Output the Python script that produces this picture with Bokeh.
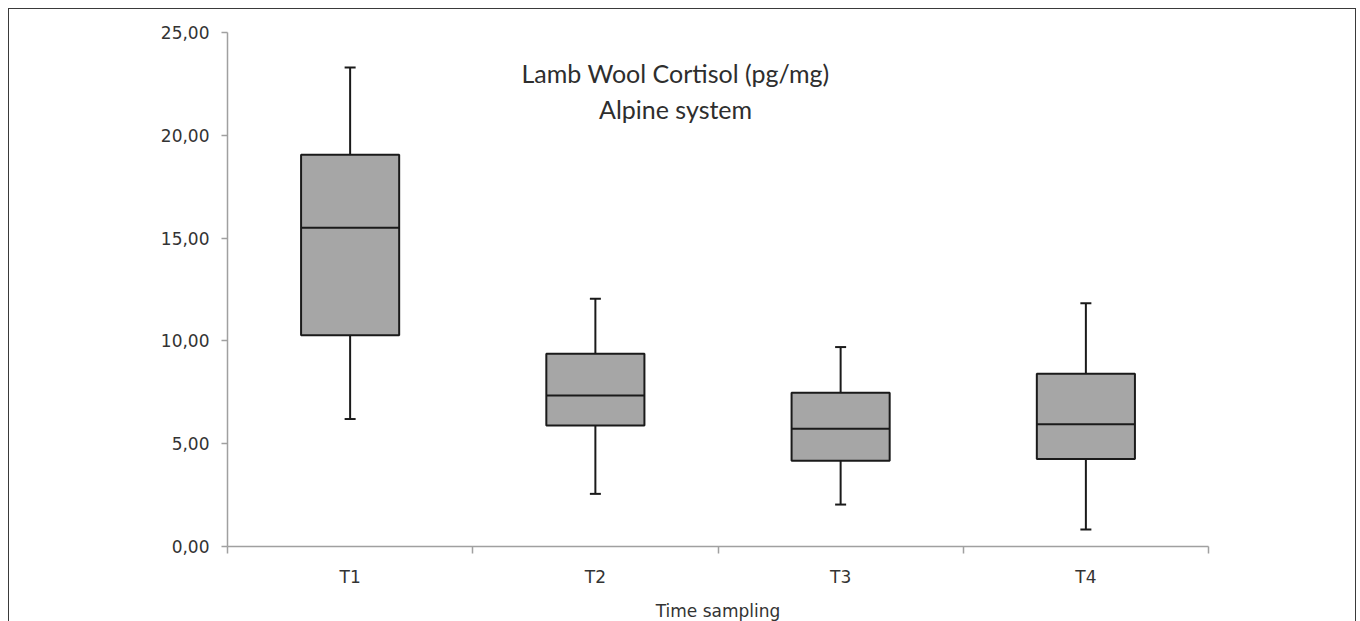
from bokeh.plotting import figure
from bokeh.models import Range1d, LinearAxis, FixedTicker, Label, ColumnDataSource
from bokeh.transform import dodge
from bokeh.embed import file_html
from bokeh.resources import INLINE

# ---- data ----
categories = ["T1", "T2", "T3", "T4"]
whisker_low = [6.20, 2.56, 2.04, 0.83]
q1 = [10.27, 5.89, 4.17, 4.26]
median = [15.50, 7.35, 5.73, 5.94]
q3 = [19.06, 9.37, 7.48, 8.40]
whisker_high = [23.30, 12.05, 9.70, 11.83]
y_ticks = [0, 5, 10, 15, 20, 25]
y_tick_labels = ["0,00", "5,00", "10,00", "15,00", "20,00", "25,00"]
title_lines = ["Lamb Wool Cortisol (pg/mg)", "Alpine system"]
x_title = "Time sampling"

n = len(categories)
centers = [i + 0.5 for i in range(n)]      # category slots on a 0..n axis
bounds = list(range(n + 1))

src = ColumnDataSource(dict(x=centers, cat=categories, lo=whisker_low, q1=q1,
                            med=median, q3=q3, hi=whisker_high))

p = figure(width=1348, height=614, x_range=Range1d(0, n),
           y_range=Range1d(0, 25), output_backend="svg", toolbar_location=None,
           x_axis_location=None, y_axis_location=None,
           min_border_left=218, min_border_right=149, min_border_top=23,
           min_border_bottom=74)
p.styles = {"border": "1px solid #3a3a3a", "box-sizing": "border-box",
            "margin-left": "8px", "margin-top": "8px"}
p.grid.visible = False
p.outline_line_color = None
p.background_fill_color = "white"
p.border_fill_color = "white"

# y axis
yax = LinearAxis(ticker=FixedTicker(ticks=y_ticks))
yax.major_label_overrides = {t: l for t, l in zip(y_ticks, y_tick_labels)}
yax.axis_line_color = "#a0a0a0"
yax.axis_line_width = 1.5
yax.major_tick_line_color = "#a0a0a0"
yax.major_tick_line_width = 1.5
yax.major_tick_in = 0
yax.major_tick_out = 6
yax.minor_tick_line_color = None
yax.major_label_text_font = "DejaVu Sans"
yax.major_label_text_font_size = "17px"
yax.major_label_text_color = "#333333"
yax.major_label_standoff = 12
p.add_layout(yax, "left")

# x axis: labels at category centres, ticks at category boundaries
xax = LinearAxis(ticker=FixedTicker(ticks=centers, minor_ticks=bounds))
xax.major_label_overrides = {c: l for c, l in zip(centers, categories)}
xax.axis_line_color = "#a0a0a0"
xax.axis_line_width = 1.5
xax.major_tick_line_color = None
xax.major_tick_in = 0
xax.major_tick_out = 7
xax.minor_tick_line_color = "#a0a0a0"
xax.minor_tick_line_width = 1.5
xax.minor_tick_in = 0
xax.minor_tick_out = 7
xax.major_label_text_font = "DejaVu Sans"
xax.major_label_text_font_size = "17px"
xax.major_label_text_color = "#333333"
xax.major_label_standoff = 13
xax.axis_label = x_title
xax.axis_label_text_font = "DejaVu Sans"
xax.axis_label_text_font_size = "17px"
xax.axis_label_text_font_style = "normal"
xax.axis_label_text_color = "#333333"
xax.axis_label_standoff = 11
p.add_layout(xax, "below")

# whiskers
p.segment(x0="x", x1="x", y0="q3", y1="hi", source=src, line_color="#1a1a1a", line_width=2)
p.segment(x0="x", x1="x", y0="lo", y1="q1", source=src, line_color="#1a1a1a", line_width=2)
p.scatter(x="x", y="hi", source=src, marker="dash", size=11, line_color="#1a1a1a", line_width=2)
p.scatter(x="x", y="lo", source=src, marker="dash", size=11, line_color="#1a1a1a", line_width=2)

# boxes
p.vbar(x="x", bottom="q1", top="q3", width=0.4, source=src,
       fill_color="#a6a6a6", line_color="#1a1a1a", line_width=2)
p.segment(x0=dodge("x", -0.2), x1=dodge("x", 0.2),
          y0="med", y1="med", source=src, line_color="#1a1a1a", line_width=2)

# title inside plot
for txt, yv in zip(title_lines, [23.05, 21.3]):
    p.add_layout(Label(x=1.827, y=yv, text=txt,
                       text_align="center", text_baseline="middle",
                       text_font="Lato", text_font_size="25px", text_color="#2e2e2e"))

open("out.html", "w").write(file_html(p, INLINE))
